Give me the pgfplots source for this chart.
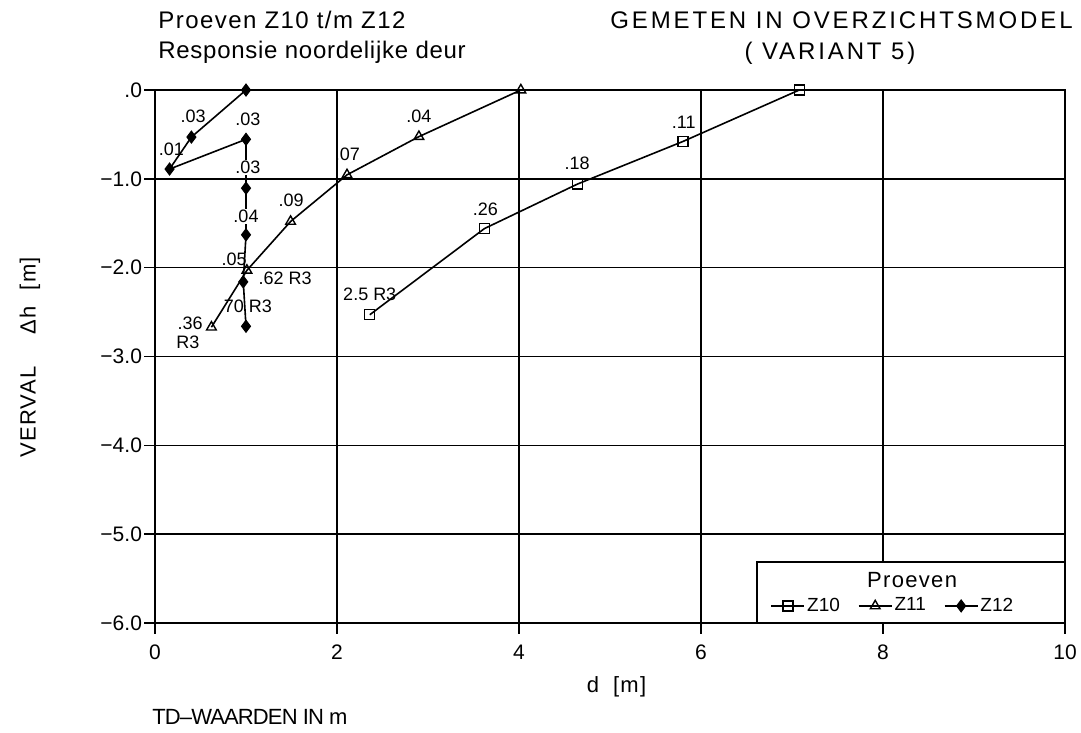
\documentclass[border=0pt]{standalone}
\usepackage{fontspec}
\setmainfont{Liberation Sans}
\newfontfamily\spacedA[LetterSpace=6]{Liberation Sans}
\newfontfamily\spacedAA[LetterSpace=3]{Liberation Sans}
\newfontfamily\spacedB[LetterSpace=12]{Liberation Sans}
\newfontfamily\spacedC[LetterSpace=6]{Liberation Sans}
\newfontfamily\condensed[LetterSpace=-4]{Liberation Sans}
\usepackage{pgfplots}
\pgfplotsset{compat=1.18}
\newcommand\lbl{\fontsize{9}{10}\selectfont}
\begin{document}
\begin{tikzpicture}
\useasboundingbox (0,0) rectangle (540.5pt,366.5pt);
\begin{axis}[
  at={(77.5pt,55pt)}, anchor=south west,
  width=455pt, height=266.5pt, scale only axis,
  xmin=0, xmax=10, ymin=-6, ymax=0,
  xtick={0,2,4,6,8,10}, ytick={-6,-5,-4,-3,-2,-1,0},
  xticklabels={0,2,4,6,8,10},
  yticklabels={−6.0,−5.0,−4.0,−3.0,−2.0,−1.0,.0},
  grid=major,
  major grid style={black, line width=0.75pt},
  axis line style={black, line width=0.85pt},
  tick align=outside, tick pos=left,
  major tick length=5.5pt,
  every tick/.style={black, line width=0.75pt},
  tick label style={font=\fontsize{10.5}{12}\selectfont},
  xticklabel style={yshift=-2pt},
  yticklabel style={xshift=2.5pt},
  clip=false,
  legend columns=3,
  legend style={at={(0.676,0.032)}, anchor=west, draw=none, fill=none,
    inner sep=0pt, font=\fontsize{9.5}{11}\selectfont,
    nodes={inner sep=1pt},
    /tikz/every even column/.append style={column sep=8pt}},
  legend image code/.code={\draw[mark repeat=2,mark phase=2] plot coordinates {(0cm,0cm) (0.29cm,0cm) (0.58cm,0cm)};},
]
\draw[black, line width=0.75pt, fill=white] (rel axis cs:0.6615,0) rectangle (rel axis cs:1,0.1144);
\node[anchor=base, font=\fontsize{11}{13}\selectfont\spacedC, inner sep=0pt] at (rel axis cs:0.832,0.0657) {Proeven};

\addplot[black, line width=0.8pt, mark=square, mark size=2.5pt, mark options={fill=white, line width=0.7pt}]
  coordinates {(7.08,0) (5.80,-0.58) (4.64,-1.06) (3.62,-1.56) (2.36,-2.53)};
\addlegendentry{Z10}
\addplot[black, line width=0.8pt, mark=triangle, mark size=2.8pt, mark options={fill=white, line width=0.7pt}]
  coordinates {(4.02,0) (2.90,-0.525) (2.11,-0.955) (1.49,-1.48) (1.01,-2.03) (0.62,-2.67)};
\addlegendentry{Z11}
\addplot[black, line width=0.8pt, mark=diamond*, mark size=3pt, mark options={fill=black, line width=0.5pt}]
  coordinates {(1.0,0) (0.40,-0.53) (0.16,-0.89) (1.0,-0.555) (1.0,-1.105) (1.0,-1.63) (0.97,-2.16) (1.0,-2.66)};
\addlegendentry{Z12}

% Z12 labels
\node[font=\lbl] at (axis cs:0.42,-0.30) {.03};
\node[font=\lbl] at (axis cs:0.18,-0.67) {.01};
\node[font=\lbl] at (axis cs:1.02,-0.33) {.03};
\node[font=\lbl, fill=white, inner sep=0.5pt] at (axis cs:1.02,-0.87) {.03};
\node[font=\lbl, fill=white, inner sep=0.5pt] at (axis cs:1.0,-1.42) {.04};
\node[font=\lbl] at (axis cs:0.87,-1.91) {.05};
\node[font=\lbl] at (axis cs:1.43,-2.12) {.62 R3};
\node[font=\lbl] at (axis cs:1.02,-2.435) {70 R3};
\node[font=\lbl] at (axis cs:0.385,-2.63) {.36};
\node[font=\lbl] at (axis cs:0.36,-2.835) {R3};
% Z11 labels
\node[font=\lbl] at (axis cs:2.90,-0.30) {.04};
\node[font=\lbl] at (axis cs:2.115,-0.72) {.07};
\node[font=\lbl] at (axis cs:1.495,-1.24) {.09};
% Z10 labels
\node[font=\lbl] at (axis cs:5.81,-0.365) {.11};
\node[font=\lbl] at (axis cs:4.64,-0.82) {.18};
\node[font=\lbl] at (axis cs:3.63,-1.34) {.26};
\node[font=\lbl] at (axis cs:2.36,-2.30) {2.5 R3};
\end{axis}

% titles and axis labels
\node[anchor=base west, inner sep=0pt, font=\fontsize{12}{14}\selectfont\spacedA] at (79pt,352pt) {Proeven Z10 t/m Z12};
\node[anchor=base west, inner sep=0pt, font=\fontsize{12}{14}\selectfont\spacedAA] at (79pt,337pt) {Responsie noordelijke deur};
\node[anchor=base east, inner sep=0pt, font=\fontsize{12}{14}\selectfont\spacedB] at (536.5pt,352.25pt) {GEMETEN IN OVERZICHTSMODEL};
\node[anchor=base, inner sep=0pt, font=\fontsize{12}{14}\selectfont\spacedB] at (415pt,336.5pt) {( VARIANT 5)};
\node[anchor=base west, inner sep=0pt, font=\fontsize{11}{13}\selectfont\condensed] at (76pt,4pt) {TD–WAARDEN IN m};
\node[anchor=base, inner sep=0pt, font=\fontsize{11}{13}\selectfont\spacedC] at (308.25pt,20pt) {d\hspace{7pt}[m]};
\node[rotate=90, inner sep=0pt, font=\fontsize{11}{13}\selectfont\spacedC] at (15pt,187.75pt) {VERVAL\hspace{16pt}Δh\hspace{8pt}[m]};
\end{tikzpicture}
\end{document}
